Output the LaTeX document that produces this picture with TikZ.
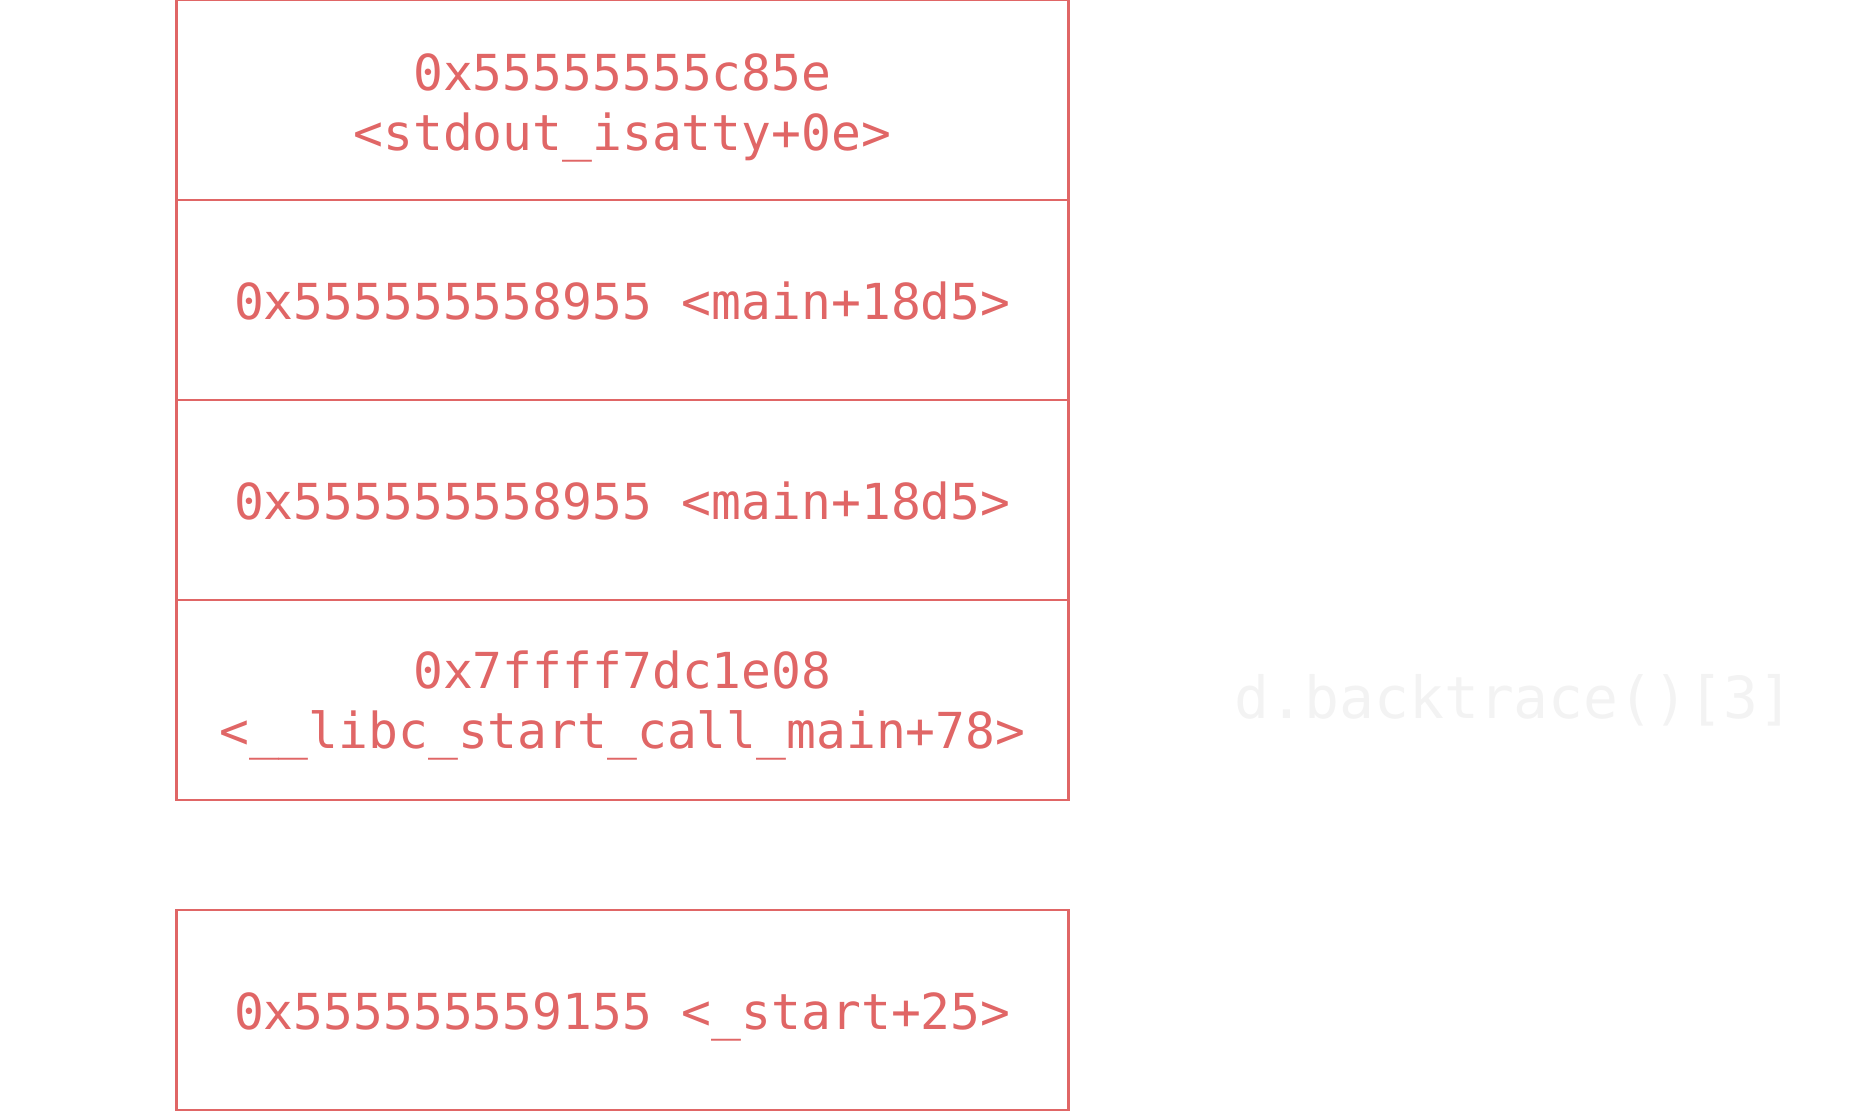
\documentclass[tikz,border=0pt]{standalone}
\usepackage{fontspec}
\setmonofont{DejaVu Sans Mono}
\definecolor{boxred}{HTML}{E06666}
\definecolor{faint}{HTML}{F3F3F3}
\begin{document}
\begin{tikzpicture}[x=0.75pt,y=-0.75pt,
  cellbox/.style={draw=boxred, line width=2.2pt, minimum width=668.6pt, minimum height=150pt, inner sep=0pt},
  celltext/.style={inner sep=0pt, align=center, text=boxred, font=\ttfamily\fontsize{37.2}{44.8}\selectfont},
  faintlabel/.style={inner sep=0pt, text=faint, font=\ttfamily\fontsize{43.5}{50}\selectfont}]
\useasboundingbox (0,0) rectangle (1871,1112);
\node[cellbox] (f0) at (622.3,100) {};
\node[cellbox] (f1) at (622.3,300) {};
\node[cellbox] (f2) at (622.3,500) {};
\node[cellbox] (f3) at (622.3,700) {};
\node[cellbox] (f4) at (622.3,1010) {};
\node[celltext] (t0) at ([yshift=-6.2pt]f0.center) {0x55555555c85e\\<stdout\_isatty+0e>};
\node[celltext] (t1) at ([yshift=-0.8pt]f1.center) {0x555555558955 <main+18d5>};
\node[celltext] (t2) at ([yshift=-0.8pt]f2.center) {0x555555558955 <main+18d5>};
\node[celltext] (t3) at ([yshift=-4.0pt]f3.center) {0x7ffff7dc1e08\\<\_\_libc\_start\_call\_main+78>};
\node[celltext] (t4) at ([yshift=-5.3pt]f4.center) {0x555555559155 <\_start+25>};
\node[faintlabel] (lbl) at (1514,700) {d.backtrace()[3]};
\end{tikzpicture}
\end{document}
